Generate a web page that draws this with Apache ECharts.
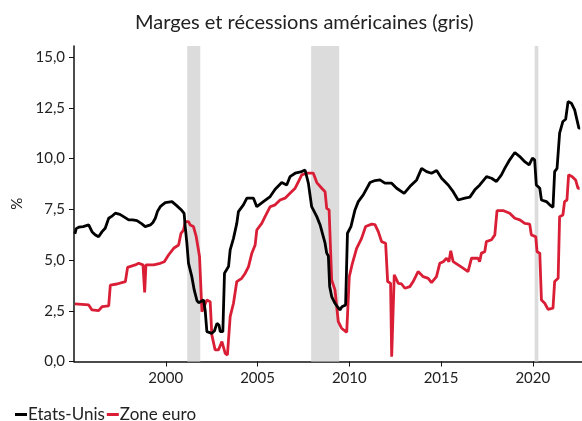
<!DOCTYPE html>
<html>
<head>
<meta charset="utf-8">
<script src="https://cdn.jsdelivr.net/npm/echarts@6/dist/echarts.min.js"></script>
<style>html,body{margin:0;padding:0;background:#fff}#c{width:582px;height:421px}</style>
</head>
<body>
<div id="c"></div>
<script>
const titleText = 'Marges et récessions américaines (gris)';
const seriesNames = ['Etats-Unis', 'Zone euro'];
const xTicks = [2000, 2005, 2010, 2015, 2020];
const yTicks = [0, 2.5, 5, 7.5, 10, 12.5, 15];
const recessions = [[2001.17, 2001.88], [2007.92, 2009.45], [2020.1, 2020.3]];

const usX = [1995.05,1995.12,1995.26,1995.5,1995.8,1995.98,1996.15,1996.34,1996.53,1996.7,1996.89,1997.05,1997.25,1997.5,1997.7,1997.98,1998.2,1998.43,1998.7,1998.88,1999.16,1999.3,1999.43,1999.55,1999.7,1999.97,2000.34,2000.61,2000.88,2001.0,2001.06,2001.15,2001.24,2001.42,2001.55,2001.7,2001.79,2002.06,2002.15,2002.24,2002.51,2002.65,2002.79,2002.9,2002.97,2003.11,2003.2,2003.42,2003.51,2003.69,2003.87,2003.96,2004.23,2004.42,2004.78,2004.96,2005.32,2005.69,2005.96,2006.32,2006.59,2006.77,2007.05,2007.41,2007.59,2007.77,2007.95,2008.23,2008.41,2008.68,2008.77,2008.86,2008.93,2009.04,2009.22,2009.35,2009.49,2009.6,2009.8,2009.9,2010.09,2010.31,2010.49,2010.76,2011.13,2011.4,2011.67,2011.94,2012.31,2012.58,2012.99,2013.3,2013.67,2013.94,2014.21,2014.48,2014.76,2015.03,2015.39,2015.66,2015.93,2016.3,2016.57,2016.84,2017.11,2017.48,2017.75,2018.02,2018.29,2018.47,2018.74,2019.02,2019.29,2019.56,2019.8,2019.98,2020.1,2020.19,2020.38,2020.47,2020.74,2020.92,2021.1,2021.19,2021.32,2021.46,2021.64,2021.79,2021.92,2022.1,2022.28,2022.37,2022.51,2022.58];
const usY = [6.29,6.55,6.62,6.65,6.73,6.40,6.25,6.15,6.40,6.57,7.06,7.15,7.31,7.25,7.14,6.98,6.98,6.94,6.78,6.65,6.73,6.85,7.06,7.40,7.63,7.83,7.88,7.67,7.44,7.30,6.65,5.83,4.84,4.18,3.53,3.00,2.90,3.03,2.50,1.47,1.39,1.50,1.88,1.80,1.47,1.47,4.35,4.68,5.50,6.07,6.81,7.39,7.72,8.05,8.05,7.63,7.88,8.13,8.49,8.82,8.70,9.11,9.28,9.36,9.44,8.79,7.63,7.14,6.73,5.83,5.34,5.20,3.70,3.20,2.87,2.70,2.54,2.70,2.79,6.32,6.65,7.47,7.88,8.21,8.82,8.92,8.95,8.79,8.79,8.54,8.29,8.62,8.95,9.52,9.36,9.28,9.41,9.03,8.70,8.37,7.96,8.05,8.10,8.46,8.70,9.11,9.03,8.87,9.20,9.52,9.94,10.30,10.10,9.85,9.69,10.02,9.94,8.70,8.54,7.96,7.88,7.72,7.60,9.36,9.52,11.25,11.83,11.94,12.81,12.73,12.40,12.32,11.50,11.50];

const euX = [1995.05,1995.8,1995.98,1996.34,1996.53,1996.89,1996.98,1997.34,1997.8,1997.92,1998.34,1998.52,1998.76,1998.85,1998.92,1999.34,1999.7,1999.92,2000.15,2000.43,2000.7,2000.83,2000.97,2001.06,2001.24,2001.33,2001.51,2001.66,2001.84,2001.97,2002.24,2002.42,2002.51,2002.69,2002.87,2003.06,2003.24,2003.36,2003.51,2003.69,2003.87,2004.14,2004.33,2004.51,2004.69,2004.87,2004.96,2005.23,2005.41,2005.69,2005.96,2006.23,2006.5,2006.77,2007.05,2007.23,2007.41,2007.68,2008.04,2008.23,2008.5,2008.68,2008.77,2008.9,2009.04,2009.22,2009.4,2009.58,2009.86,2010.0,2010.17,2010.4,2010.67,2010.89,2011.22,2011.4,2011.58,2011.76,2011.98,2012.09,2012.25,2012.31,2012.4,2012.45,2012.67,2012.85,2013.03,2013.3,2013.48,2013.75,2014.03,2014.3,2014.48,2014.75,2014.93,2015.12,2015.3,2015.43,2015.53,2015.66,2015.93,2016.2,2016.47,2016.66,2017.02,2017.1,2017.2,2017.38,2017.47,2017.75,2017.93,2018.05,2018.38,2018.74,2019.02,2019.29,2019.56,2019.83,2019.92,2020.16,2020.23,2020.38,2020.47,2020.65,2020.83,2021.1,2021.19,2021.38,2021.46,2021.64,2021.73,2021.86,2021.95,2022.15,2022.33,2022.46,2022.55];
const euY = [2.84,2.79,2.54,2.51,2.70,2.74,3.77,3.82,3.94,4.64,4.76,4.84,4.76,3.40,4.76,4.76,4.84,4.92,5.25,5.58,5.74,6.32,6.48,6.89,6.89,6.73,6.65,6.15,5.17,2.46,3.03,2.95,1.31,0.57,0.57,0.98,0.40,0.32,2.21,2.87,3.94,4.10,4.35,4.68,5.34,5.74,6.48,6.81,7.14,7.63,7.72,7.96,8.05,8.29,8.54,8.87,9.20,9.28,9.28,8.82,8.54,8.37,7.55,7.47,4.02,3.53,1.96,1.64,1.44,4.18,4.84,5.58,6.07,6.65,6.77,6.75,6.40,5.91,5.83,3.94,3.85,0.24,0.24,4.27,3.85,3.82,3.61,3.69,3.94,4.43,4.18,4.10,3.89,4.18,4.84,4.92,5.09,4.92,5.46,4.92,4.76,4.60,4.43,5.09,5.09,4.92,5.34,5.41,5.91,6.00,6.24,7.44,7.44,7.31,7.06,6.98,6.81,6.77,6.24,6.15,5.41,5.34,3.03,2.87,2.57,2.63,3.94,4.10,7.14,7.22,7.88,7.96,9.20,9.11,8.95,8.54,8.54];

const zip = (xs, ys) => xs.map((x, i) => [x, ys[i]]);
const fmt = v => v.toFixed(1).replace('.', ',');
const FONT = 'Lato';

const chart = echarts.init(document.getElementById('c'), null, {renderer: 'canvas'});
chart.setOption({
  animation: false,
  backgroundColor: '#fff',
  title: {
    text: titleText, left: 130, top: 8,
    textStyle: {fontFamily: FONT, fontSize: 20, fontWeight: 'normal', color: '#222'}
  },
  legend: {
    data: seriesNames, left: 10, top: 401, itemGap: 2,
    icon: 'rect', itemWidth: 12, itemHeight: 3,
    textStyle: {fontFamily: FONT, fontSize: 17, color: '#222', padding: [0, 0, 0, -4]}
  },
  grid: {left: 74, right: 0, top: 46, bottom: 59.5, containLabel: false},
  xAxis: {
    type: 'value', min: 1995, max: 2022.68, interval: 5,
    splitLine: {show: false},
    axisLine: {lineStyle: {color: '#111', width: 1.5}},
    axisTick: {show: true, length: 5, customValues: xTicks, lineStyle: {color: '#111'}},
    axisLabel: {customValues: xTicks, fontFamily: FONT, fontSize: 15, color: '#222', margin: 9, formatter: v => String(v)}
  },
  yAxis: {
    type: 'value', min: 0, max: 15.55, interval: 2.5,
    name: '%', nameLocation: 'middle', nameGap: 45, nameRotate: 90,
    nameTextStyle: {fontFamily: FONT, fontSize: 15, color: '#222'},
    splitLine: {show: false},
    axisLine: {show: true, lineStyle: {color: '#111', width: 1.5}},
    axisTick: {show: true, length: 5, customValues: yTicks, lineStyle: {color: '#111'}},
    axisLabel: {customValues: yTicks, fontFamily: FONT, fontSize: 15, color: '#222', margin: 9, formatter: v => fmt(v)}
  },
  series: [
    {
      name: 'rec', type: 'line', data: [], z: 1, silent: true,
      markArea: {
        silent: true,
        itemStyle: {color: '#dcdcdc'},
        data: recessions.map(r => [{xAxis: r[0]}, {xAxis: r[1]}])
      }
    },
    {
      name: seriesNames[0], type: 'line', data: zip(usX, usY), z: 3,
      showSymbol: false, symbol: 'none', color: '#000',
      lineStyle: {color: '#000', width: 2.8}
    },
    {
      name: seriesNames[1], type: 'line', data: zip(euX, euY), z: 2,
      showSymbol: false, symbol: 'none', color: '#d91e36',
      lineStyle: {color: '#d91e36', width: 2.8}
    }
  ]
});
</script>
</body>
</html>
